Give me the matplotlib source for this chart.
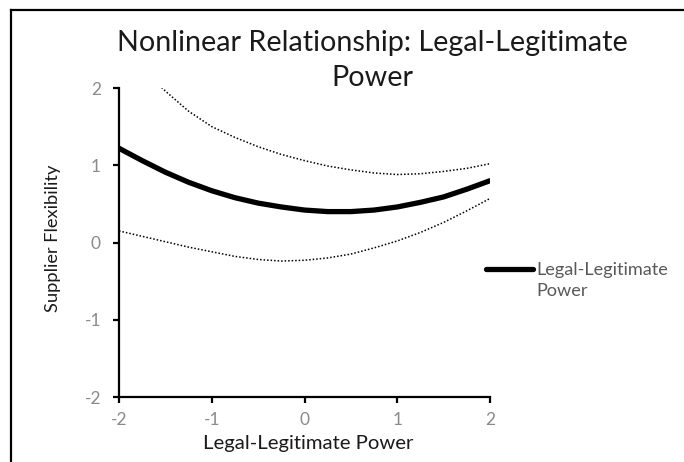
import matplotlib
matplotlib.use('Agg')
import matplotlib.pyplot as plt
from matplotlib.lines import Line2D
from matplotlib.legend_handler import HandlerLine2D
import numpy as np

# ---------------- data ----------------
x_vals = [-2.0, -1.75, -1.5, -1.25, -1.0, -0.75, -0.5, -0.25, 0.0,
          0.25, 0.5, 0.75, 1.0, 1.25, 1.5, 1.75, 2.0]
main_vals = [1.22, 1.06, 0.91, 0.78, 0.67, 0.58, 0.51, 0.46, 0.42,
             0.40, 0.40, 0.42, 0.46, 0.52, 0.59, 0.69, 0.80]
upper_vals = [2.55, 2.25, 1.96, 1.70, 1.50, 1.36, 1.24, 1.14, 1.06,
              0.99, 0.94, 0.90, 0.88, 0.89, 0.92, 0.96, 1.02]
lower_vals = [0.15, 0.08, 0.01, -0.06, -0.12, -0.18, -0.22, -0.24, -0.23,
              -0.20, -0.15, -0.07, 0.02, 0.13, 0.26, 0.41, 0.57]
x_ticks = [-2, -1, 0, 1, 2]
y_ticks = [-2, -1, 0, 1, 2]
title_text = "Nonlinear Relationship: Legal-Legitimate\nPower"
xlabel_text = "Legal-Legitimate Power"
ylabel_text = "Supplier Flexibility"
series_label = "Legal-Legitimate\nPower"

# ---------------- figure ----------------
W, H = 684, 462
DPI = 100
plt.rcParams['font.family'] = ['Lato', 'DejaVu Sans']
fig = plt.figure(figsize=(W / DPI, H / DPI), dpi=DPI)
fig.patch.set_facecolor('white')
renderer = fig.canvas.get_renderer()


def text_width(s, size, rotation=0):
    t = fig.text(0, 0, s, fontsize=size, rotation=rotation)
    bb = t.get_window_extent(renderer)
    t.remove()
    return bb.height if rotation else bb.width


def fit_size(s, target_px, rotation=0):
    base = 12.0
    return base * target_px / text_width(s, base, rotation)


# outer chart border (only top and left visible)
fig.add_artist(Line2D([11 / W, 11 / W], [0, 1 - 10 / H], transform=fig.transFigure,
                      color='black', lw=1.6))
fig.add_artist(Line2D([11 / W, 1], [1 - 10 / H, 1 - 10 / H], transform=fig.transFigure,
                      color='black', lw=1.6))

ax = fig.add_axes([119 / W, 1 - 397 / H, (490 - 119) / W, (397 - 88) / H])
ax.set_facecolor('none')

ax.plot(x_vals, upper_vals, color='black', lw=1.1, ls=(0, (1, 1.3)))
ax.plot(x_vals, lower_vals, color='black', lw=1.1, ls=(0, (1, 1.3)))
main_line, = ax.plot(x_vals, main_vals, color='black', lw=3.8,
                     solid_capstyle='round', label=series_label)

ax.set_xlim(-2, 2)
ax.set_ylim(-2, 2)
ax.set_xticks(x_ticks)
ax.set_yticks(y_ticks)
ax.set_xticklabels([str(v) for v in x_ticks])
ax.set_yticklabels([str(v) for v in y_ticks])

for s in ['top', 'right']:
    ax.spines[s].set_visible(False)
for s in ['left', 'bottom']:
    ax.spines[s].set_linewidth(1.6)
    ax.spines[s].set_color('black')

ax.tick_params(axis='both', direction='out', length=4, width=1.6, color='black',
               labelcolor='#8a8a8a', labelsize=12.5)
ax.tick_params(axis='y', pad=9)
ax.tick_params(axis='x', pad=7)

# title
title_size = fit_size("Nonlinear Relationship: Legal-Legitimate", 509)
title_px = title_size * DPI / 72
fig.text(372 / W, 1 - 30 / H, title_text, ha='center', va='top', fontsize=title_size,
         color='#1a1a1a', linespacing=34 / title_px * 1.21, multialignment='center')

# axis labels
xl_size = fit_size(xlabel_text, 210)
fig.text(308 / W, 1 - 443 / H, xlabel_text, ha='center', va='center',
         fontsize=xl_size, color='#1a1a1a')
yl_size = fit_size(ylabel_text, 147, rotation=90)
fig.text(53 / W, 1 - 238 / H, ylabel_text, ha='center', va='center', rotation=90,
         fontsize=yl_size, color='#1a1a1a')

# legend
leg_size = fit_size("Legal-Legitimate", 132)
leg_px = leg_size * DPI / 72


class ShiftedLineHandler(HandlerLine2D):
    def __init__(self, shift, **kw):
        super().__init__(**kw)
        self.shift = shift

    def create_artists(self, legend, orig_handle, xdescent, ydescent, width, height,
                       fontsize, trans):
        arts = super().create_artists(legend, orig_handle, xdescent, ydescent, width,
                                      height, fontsize, trans)
        for a in arts:
            if isinstance(a, Line2D):
                a.set_ydata(np.asarray(a.get_ydata(), dtype=float) + self.shift)
        return arts


shift_pt = 11.5 * 72 / DPI
leg = fig.legend(handles=[main_line], loc='upper left',
                 bbox_to_anchor=(486 / W, 1 - 262 / H), frameon=False,
                 fontsize=leg_size, borderpad=0, borderaxespad=0,
                 handlelength=47 / leg_px, handletextpad=3 / leg_px,
                 handler_map={Line2D: ShiftedLineHandler(shift_pt)})
for t in leg.get_texts():
    t.set_color('#595959')
    t.set_linespacing(1.4)

fig.savefig('out.png', dpi=DPI, facecolor='white')
